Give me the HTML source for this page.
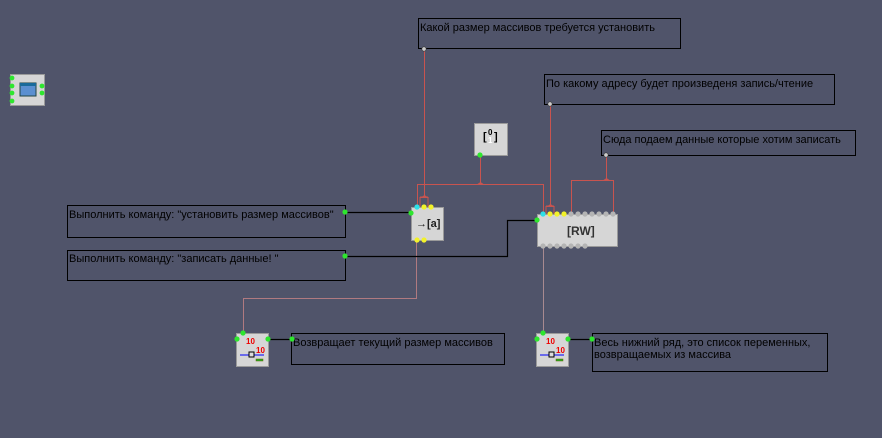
<!DOCTYPE html>
<html><head><meta charset="utf-8"><style>
body{margin:0;background:#50546a;}
svg{display:block;font-family:"Liberation Sans","DejaVu Sans",sans-serif;}
text{font-size:11px;fill:#000;}
</style></head><body>
<svg width="882" height="438" viewBox="0 0 882 438">
<rect width="882" height="438" fill="#50546a"/>
<g fill="none" stroke="#000" stroke-width="1">
<rect x="418.5" y="18.5" width="262" height="30"/>
<rect x="544.5" y="74.5" width="290" height="30"/>
<rect x="601.5" y="130.5" width="254" height="25"/>
<rect x="67.5" y="205.5" width="278" height="32"/>
<rect x="67.5" y="250.5" width="278" height="30"/>
<rect x="291.5" y="333.5" width="213" height="31"/>
<rect x="592.5" y="333.5" width="235" height="38"/>
</g>
<text x="420" y="31">Какой размер массивов требуется установить</text>
<text x="546" y="87">По какому адресу будет произведеня запись/чтение</text>
<text x="603" y="143">Сюда подаем данные которые хотим записать</text>
<text x="69" y="218">Выполнить команду: "установить размер массивов"</text>
<text x="69" y="262">Выполнить команду: "записать данные! "</text>
<text x="293" y="346">Возвращает текущий размер массивов</text>
<text x="594" y="346">Весь нижний ряд, это список переменных,</text>
<text x="594" y="358">возвращаемых из массива</text>
<g fill="none" stroke="#c8544f" stroke-width="1">
<path d="M424.5 49V197M420 197h8M420 197v10M428 197v10"/>
<path d="M550.5 104V206M546 206h8M546 206v8M554 206v8"/>
<path d="M480.5 155V184.5M417.5 207V184.5H543.5V214"/>
<path d="M606.5 155V180.5M571.5 214V180.5H613.5V214"/>
<path d="M243.5 333V298.5H416.5V240" stroke="#b07a80"/>
<path d="M543.5 246V333" stroke="#a88a90"/>
</g>
<g fill="#c8544f"><path d="M476 185h9l-4.5-3z"/><path d="M602 181h9l-4.5-3z"/><path d="M420 198h9l-4.5-3z"/><path d="M546 207h9l-4.5-3z"/></g>
<g fill="none" stroke="#000" stroke-width="1.2">
<path d="M345 212.5H411"/>
<path d="M345 256.5H507.5V220.5H537"/>
<path d="M268 339.5H291"/>
<path d="M568 339.5H592"/>
</g>
<g fill="#d6d6d6" stroke="#9a9a9a">
<rect x="10.5" y="74.5" width="34" height="31"/>
<rect x="474.5" y="123.5" width="33" height="32"/>
<rect x="411.5" y="207.5" width="32" height="33"/>
<rect x="537.5" y="214.5" width="80" height="32"/>
<rect x="236.5" y="333.5" width="32" height="33"/>
<rect x="536.5" y="333.5" width="32" height="33"/>
</g>
<rect x="20" y="83" width="16" height="13" fill="#5b8fd0" stroke="#244" stroke-width="1"/>
<rect x="20" y="83" width="16" height="3" fill="#1a6a9a"/>
<g fill="#2ee62e"><circle cx="12" cy="78" r="2.4"/><circle cx="12" cy="86" r="2.4"/><circle cx="12" cy="93" r="2.4"/><circle cx="12" cy="101" r="2.4"/><circle cx="42" cy="86" r="2.4"/><circle cx="42" cy="93" r="2.4"/></g>
<text x="483" y="140" style="font-size:11px;font-weight:bold">[</text><text x="494" y="140" style="font-size:11px;font-weight:bold">]</text>
<text x="488" y="135" style="font-size:8px;font-weight:bold">0</text>
<text x="488" y="143" style="font-size:8px;font-weight:bold;fill:#fff">1</text>
<text x="416" y="227" style="font-size:11px;font-weight:bold;fill:#222">→[a]</text>
<text x="567" y="235" style="font-size:12px;font-weight:bold;fill:#333">[RW]</text>
<text x="246" y="344" style="fill:#e00;font-size:8px;font-weight:bold">10</text>
<text x="256" y="353" style="fill:#e00;font-size:8px;font-weight:bold">10</text>
<text x="546" y="344" style="fill:#e00;font-size:8px;font-weight:bold">10</text>
<text x="556" y="353" style="fill:#e00;font-size:8px;font-weight:bold">10</text>
<g stroke="#00f" fill="none"><path d="M240 355h24"/><path d="M540 355h24"/></g>
<rect x="249" y="352" width="5" height="5" fill="#ddd" stroke="#000"/>
<rect x="549" y="352" width="5" height="5" fill="#ddd" stroke="#000"/>
<rect x="256" y="359" width="7" height="2" fill="#2a2" stroke="#660" stroke-width=".5"/>
<rect x="556" y="359" width="7" height="2" fill="#2a2" stroke="#660" stroke-width=".5"/>
<g fill="#2ee62e"><circle cx="480" cy="155" r="2.6"/><circle cx="411" cy="213" r="2.6"/><circle cx="537" cy="220" r="2.6"/>
<circle cx="243" cy="333" r="2.6"/><circle cx="237" cy="339" r="2.6"/><circle cx="268" cy="339" r="2.6"/>
<circle cx="543" cy="333" r="2.6"/><circle cx="537" cy="339" r="2.6"/><circle cx="568" cy="339" r="2.6"/>
<circle cx="345" cy="212" r="2.6"/><circle cx="345" cy="256" r="2.6"/><circle cx="292" cy="339" r="2.6"/><circle cx="592" cy="339" r="2.6"/></g>
<g fill="#2de0e8"><circle cx="417" cy="207" r="2.6"/><circle cx="543" cy="214" r="2.6"/></g>
<g fill="#f2f22a"><circle cx="424" cy="207" r="2.6"/><circle cx="431" cy="207" r="2.6"/><circle cx="417" cy="240" r="2.6"/><circle cx="424" cy="240" r="2.6"/>
<circle cx="550" cy="214" r="2.6"/><circle cx="557" cy="214" r="2.6"/><circle cx="564" cy="214" r="2.6"/></g>
<g fill="#b4b4b4"><circle cx="571" cy="214" r="2.6"/><circle cx="578" cy="214" r="2.6"/><circle cx="585" cy="214" r="2.6"/><circle cx="592" cy="214" r="2.6"/><circle cx="599" cy="214" r="2.6"/><circle cx="606" cy="214" r="2.6"/><circle cx="613" cy="214" r="2.6"/>
<circle cx="543" cy="246" r="2.6"/><circle cx="550" cy="246" r="2.6"/><circle cx="557" cy="246" r="2.6"/><circle cx="564" cy="246" r="2.6"/><circle cx="571" cy="246" r="2.6"/><circle cx="578" cy="246" r="2.6"/><circle cx="585" cy="246" r="2.6"/></g>
<g fill="#ccc" stroke="#333" stroke-width=".7"><circle cx="424" cy="49" r="2.2"/><circle cx="550" cy="104" r="2.2"/><circle cx="606" cy="155" r="2.2"/></g>
</svg>
</body></html>
